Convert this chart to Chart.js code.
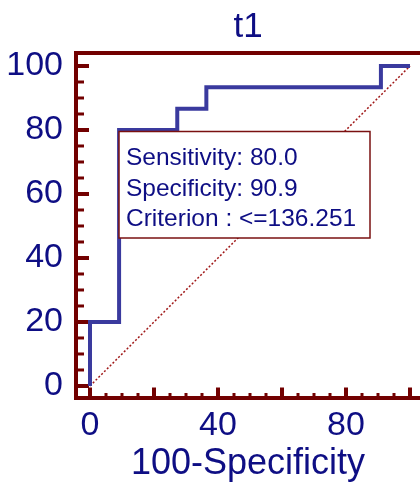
<!DOCTYPE html>
<html>
<head>
<meta charset="utf-8">
<script src="https://cdn.jsdelivr.net/npm/chart.js@4.4.1/dist/chart.umd.min.js"></script>
<style>
  body { margin: 0; background: #fff; }
  canvas { display: block; }
</style>
</head>
<body>
<canvas id="roc" width="420" height="482"></canvas>
<script>
// ROC points (100-Specificity, Sensitivity)
const fpr = [0, 0, 9.09, 9.09, 27.27, 27.27, 36.36, 36.36, 90.91, 90.91, 100];
const sens = [0, 20, 20, 80, 80, 86.67, 86.67, 93.33, 93.33, 100, 100];
const diagX = [0, 100];
const diagY = [0, 100];
const xLabels = [0, 40, 80];
const yLabels = [0, 20, 40, 60, 80, 100];
const infoLines = ['Sensitivity: 80.0', 'Specificity: 90.9', 'Criterion : <=136.251'];

const navy = '#0e0e84';
const axisRed = '#720000';
const fontFam = '"Liberation Sans", Arial, sans-serif';

// short ticks pointing into the plot
const tickMarks = {
  id: 'tickMarks',
  beforeDatasetsDraw(chart) {
    const ctx = chart.ctx;
    const area = chart.chartArea;
    const xs = chart.scales.x, ys = chart.scales.y;
    ctx.save();
    ctx.strokeStyle = axisRed;
    for (let v = 0; v <= 100; v += 5) {
      const major = v % 20 === 0;
      // y axis
      const py = ys.getPixelForValue(v);
      ctx.lineWidth = major ? 4 : 3;
      ctx.beginPath();
      ctx.moveTo(area.left, py);
      ctx.lineTo(area.left + (major ? 13 : 8), py);
      ctx.stroke();
      // x axis
      const px = xs.getPixelForValue(v);
      ctx.beginPath();
      ctx.moveTo(px, area.bottom);
      ctx.lineTo(px, area.bottom - (major ? 10 : 4.5));
      ctx.stroke();
    }
    ctx.restore();
  }
};

const infoBox = {
  id: 'infoBox',
  afterDatasetsDraw(chart) {
    const ctx = chart.ctx;
    const area = chart.chartArea;
    const bx = area.left + 43, by = 131.5, bw = 251, bh = 106.5;
    ctx.save();
    ctx.fillStyle = '#fff';
    ctx.fillRect(bx, by, bw, bh);
    ctx.strokeStyle = '#7a1010';
    ctx.lineWidth = 1.5;
    ctx.strokeRect(bx, by, bw, bh);
    ctx.fillStyle = navy;
    ctx.font = '24.5px ' + fontFam;
    ctx.textBaseline = 'alphabetic';
    infoLines.forEach((t, i) => ctx.fillText(t, bx + 7, by + 33.5 + i * 30.5));
    ctx.restore();
  }
};

new Chart(document.getElementById('roc'), {
  type: 'line',
  data: {
    datasets: [
      {
        data: fpr.map((x, i) => ({ x: x, y: sens[i] })),
        borderColor: '#3a3a9e',
        borderWidth: 4,
        pointRadius: 0,
        fill: false,
        tension: 0,
        order: 1
      },
      {
        data: diagX.map((x, i) => ({ x: x, y: diagY[i] })),
        borderColor: '#a01818',
        borderWidth: 1.5,
        borderDash: [2, 2],
        pointRadius: 0,
        fill: false,
        order: 2
      }
    ]
  },
  options: {
    responsive: false,
    animation: false,
    devicePixelRatio: 1,
    layout: { padding: 0 },
    plugins: { legend: { display: false }, tooltip: { enabled: false }, title: { display: false } },
    scales: {
      x: {
        type: 'linear',
        position: 'bottom',
        min: -4.375,
        max: 103.125,
        grid: { display: false, drawTicks: false },
        border: { display: true, color: axisRed, width: 4 },
        ticks: {
          stepSize: 20,
          includeBounds: false,
          autoSkip: false,
          maxRotation: 0,
          padding: 8,
          color: navy,
          font: { family: fontFam, size: 34 },
          callback: v => xLabels.includes(v) ? String(v) : ''
        },
        title: {
          display: true,
          text: '100-Specificity',
          color: navy,
          font: { family: fontFam, size: 36 },
          padding: { top: 0, bottom: -4 }
        },
        afterFit(scale) { scale.height = 84.5; }
      },
      top: {
        type: 'linear',
        position: 'top',
        min: -4.375,
        max: 103.125,
        grid: { display: false, drawTicks: false },
        border: { display: true, color: axisRed, width: 4 },
        ticks: { display: false },
        title: {
          display: true,
          text: 't1',
          color: navy,
          font: { family: fontFam, size: 35 },
          padding: { top: 6, bottom: 0 }
        },
        afterFit(scale) { scale.height = 53; }
      },
      y: {
        type: 'linear',
        min: -3.6,
        max: 104.06,
        grid: { display: false, drawTicks: false },
        border: { display: true, color: axisRed, width: 4 },
        ticks: {
          stepSize: 20,
          includeBounds: false,
          padding: 13,
          color: navy,
          font: { family: fontFam, size: 34 },
          callback: v => yLabels.includes(v) ? String(v) : ''
        },
        afterFit(scale) { scale.width = 76; }
      }
    }
  },
  plugins: [tickMarks, infoBox]
});
</script>
</body>
</html>
